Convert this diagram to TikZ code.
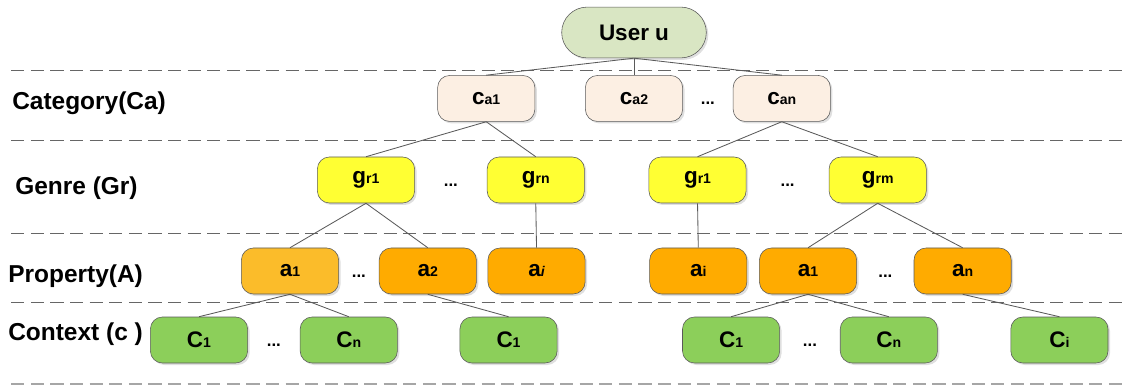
\documentclass[tikz,border=0pt]{standalone}
\usepackage{fontspec}
\setmainfont{Liberation Sans}
\usetikzlibrary{shapes,positioning,shadows}

\definecolor{userfill}{HTML}{D9E6C3}
\definecolor{catfill}{HTML}{FCEFE3}
\definecolor{genfill}{HTML}{FFFF33}
\definecolor{propfill}{HTML}{FFAB00}
\definecolor{propfilllt}{HTML}{FBBC2A}
\definecolor{ctxfill}{HTML}{8CCF5A}
\definecolor{edgegray}{HTML}{5A5A5A}

% big letter with small index on the baseline
\newcommand{\nlab}[2]{{\fontsize{16}{16}\selectfont #1}{\fontsize{10}{10}\selectfont #2}}

\begin{document}
\begin{tikzpicture}[
  node distance=1.25cm,
  box/.style={rectangle, draw=edgegray, rounded corners=0.3cm, minimum width=2.43cm, minimum height=1.15cm, align=center, font=\bfseries,
    drop shadow={opacity=0.25, shadow xshift=0.05cm, shadow yshift=-0.05cm}},
  userbox/.style={rounded rectangle, draw=edgegray, fill=userfill, minimum width=3.85cm, minimum height=1.27cm, font=\bfseries\fontsize{16}{16}\selectfont,
    drop shadow={opacity=0.25, shadow xshift=0.05cm, shadow yshift=-0.05cm}},
  catbox/.style={box, fill=catfill},
  genbox/.style={box, fill=genfill},
  propbox/.style={box, fill=propfill},
  ctxbox/.style={box, fill=ctxfill},
  link/.style={draw=edgegray, line width=0.6pt},
  dots/.style={font=\bfseries\fontsize{12}{12}\selectfont, inner sep=0pt, yshift=-0.13cm},
  lvl/.style={anchor=base west, inner sep=0pt, font=\bfseries\fontsize{17.4}{17.4}\selectfont},
  sepline/.style={dashed, dash pattern=on 0.33cm off 0.16cm, draw=black!60, line width=0.7pt}
]
  \useasboundingbox (0,0) rectangle (28.125,-9.65);

  % level separators
  \foreach \y in {-1.75,-3.5,-5.825,-7.55}
    \draw[sepline] (0.28,\y) -- (28.125,\y);
  \draw[sepline, draw=black!35, line width=2pt] (0.28,-9.6) -- (28.125,-9.6);

  % level names
  \node[lvl] (lcat) at (0.3,-2.75) {Category(Ca)};
  \node[lvl] (lgen) at (0.375,-4.875) {Genre (Gr)};
  \node[lvl] (lprop) at (0.2,-7.05) {Property(A)};
  \node[lvl] (lctx) at (0.2,-8.5) {Context (c )};

  % user and categories
  \node[userbox] (user) at (15.85,-0.8125) {User u};
  \node[catbox, below=0.425cm of user] (ca2) {\nlab{c}{a2}};
  \node[catbox, left=1.25cm of ca2] (ca1) {\nlab{c}{a1}};
  \node[catbox, right=1.25cm of ca2] (can) {\nlab{c}{an}};

  % genres
  \node[genbox] (gr1) at (9.15,-4.5) {\nlab{g}{r1}};
  \node[genbox, right=1.8cm of gr1] (grn) {\nlab{g}{rn}};
  \node[genbox, right=1.6cm of grn] (grb1) {\nlab{g}{r1}};
  \node[genbox, right=2.06cm of grb1] (grm) {\nlab{g}{rm}};

  % properties
  \node[box, fill=propfilllt] (a1) at (7.25,-6.775) {\nlab{a}{1}};
  \node[propbox, right=1.0cm of a1] (a2) {\nlab{a}{2}};
  \node[propbox, right=0.275cm of a2] (ai) {\nlab{a}{\itshape i}};
  \node[propbox, right=1.6cm of ai] (abi) {\nlab{a}{i}};
  \node[propbox, right=0.3cm of abi] (ab1) {\nlab{a}{1}};
  \node[propbox, right=1.42cm of ab1] (an) {\nlab{a}{n}};

  % contexts
  \node[ctxbox] (c1) at (4.975,-8.5) {\nlab{C}{1}};
  \node[ctxbox, right=1.3cm of c1] (cn) {\nlab{C}{n}};
  \node[ctxbox, right=1.55cm of cn] (cb1) {\nlab{C}{1}};
  \node[ctxbox, right=3.12cm of cb1] (cc1) {\nlab{C}{1}};
  \node[ctxbox, right=1.5cm of cc1] (ccn) {\nlab{C}{n}};
  \node[ctxbox, right=1.82cm of ccn] (ci) {\nlab{C}{i}};

  % dots between siblings
  \path (ca2) -- (can) node[dots, midway] (dca) {...};
  \path (gr1) -- (grn) node[dots, midway] (dgra) {...};
  \path (grb1) -- (grm) node[dots, midway] (dgrb) {...};
  \path (a1) -- (a2) node[dots, midway] (dpa) {...};
  \path (ab1) -- (an) node[dots, midway] (dpb) {...};
  \path (c1) -- (cn) node[dots, midway] (dca1) {...};
  \path (cc1) -- (ccn) node[dots, midway] (dcb1) {...};

  % tree links
  \foreach \n in {ca1,ca2,can}
    \draw[link] (user.south) -- (\n.north);
  \draw[link] (ca1.south) -- (gr1.north);
  \draw[link] (ca1.south) -- (grn.north);
  \draw[link] (can.south) -- (grb1.north);
  \draw[link] (can.south) -- (grm.north);
  \draw[link] (gr1.south) -- (a1.north);
  \draw[link] (gr1.south) -- (a2.north);
  \draw[link] (grn.south) -- (ai.north);
  \draw[link] (grb1.south) -- (abi.north);
  \draw[link] (grm.south) -- (ab1.north);
  \draw[link] (grm.south) -- (an.north);
  \draw[link] (a1.south) -- (c1.north);
  \draw[link] (a1.south) -- (cn.north);
  \draw[link] (a2.south) -- (cb1.north);
  \draw[link] (ab1.south) -- (cc1.north);
  \draw[link] (ab1.south) -- (ccn.north);
  \draw[link] (an.south) -- (ci.north);
\end{tikzpicture}
\end{document}
